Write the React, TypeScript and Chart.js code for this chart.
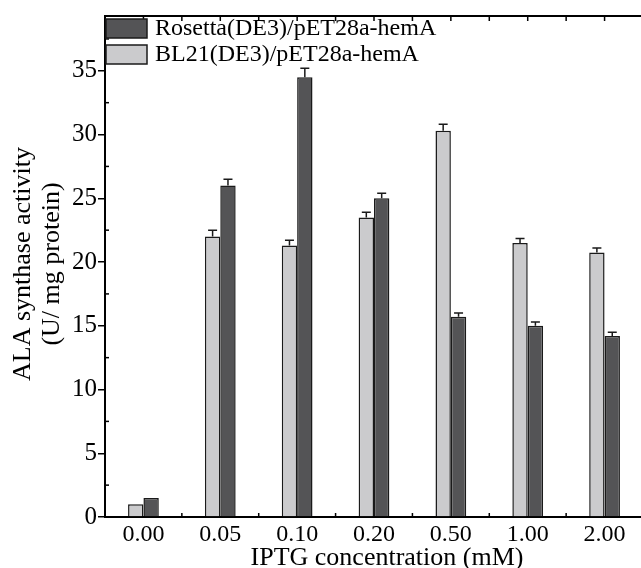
import React, { useEffect, useRef } from "react";
import { Chart, registerables } from "chart.js";

Chart.register(...registerables);

const categories = ["0.00", "0.05", "0.10", "0.20", "0.50", "1.00", "2.00"];
const bl21Values = [1.0, 22.0, 21.3, 23.5, 30.3, 21.5, 20.75];
const bl21Errors = [0, 0.5, 0.4, 0.4, 0.5, 0.35, 0.35];
const rosettaValues = [1.5, 26.0, 34.5, 25.0, 15.7, 15.0, 14.2];
const rosettaErrors = [0, 0.5, 0.7, 0.4, 0.3, 0.3, 0.3];
const yTickValues = [0, 5, 10, 15, 20, 25, 30, 35];
const legendLabels = ["Rosetta(DE3)/pET28a-hemA", "BL21(DE3)/pET28a-hemA"];
const yTitleLines = ["ALA synthase activity", "(U/ mg protein)"];
const xTitle = "IPTG concentration (mM)";

const LIGHT = "#cbcbcd";
const DARK = "#545456";
const EDGE = "#1a1a1a";
const FONT = "'Liberation Serif', 'Times New Roman', serif";

const W = 660;
const H = 568;

const decorPlugin = {
  id: "decor",
  afterDatasetsDraw(chart: any) {
    const ctx = chart.ctx;
    const ya = chart.scales.y;
    const errs = [bl21Errors, rosettaErrors];
    ctx.save();
    ctx.strokeStyle = EDGE;
    ctx.lineWidth = 1.5;
    [0, 1].forEach((di) => {
      const meta = chart.getDatasetMeta(di);
      meta.data.forEach((bar: any, i: number) => {
        const e = errs[di][i];
        if (!e) return;
        const v = chart.data.datasets[di].data[i] as number;
        const yTop = ya.getPixelForValue(v + e);
        const yBase = ya.getPixelForValue(v);
        ctx.beginPath();
        ctx.moveTo(bar.x, yBase);
        ctx.lineTo(bar.x, yTop);
        ctx.moveTo(bar.x - 4.5, yTop);
        ctx.lineTo(bar.x + 4.5, yTop);
        ctx.stroke();
      });
    });
    ctx.restore();
  },
  afterDraw(chart: any) {
    const ctx = chart.ctx;
    const area = chart.chartArea;
    const ya = chart.scales.y;
    const xa = chart.scales.x;
    ctx.save();
    ctx.strokeStyle = "#000";
    ctx.lineWidth = 2;
    ctx.beginPath();
    ctx.moveTo(area.left - 1, area.top);
    ctx.lineTo(area.right, area.top);
    ctx.stroke();
    ctx.lineWidth = 1.5;
    const n = categories.length;
    const step = (area.right - area.left) / n;
    for (let i = 0; i <= n; i++) {
      const xb = area.left + i * step;
      ctx.beginPath();
      ctx.moveTo(xb, area.bottom);
      ctx.lineTo(xb, area.bottom - 4);
      ctx.moveTo(xb, area.top);
      ctx.lineTo(xb, area.top + 5);
      ctx.stroke();
    }
    for (let i = 0; i < n; i++) {
      const xc = xa.getPixelForValue(i);
      ctx.beginPath();
      ctx.moveTo(xc, area.top);
      ctx.lineTo(xc, area.top + 5);
      ctx.stroke();
    }
    for (let v = 2.5; v < ya.max; v += 5) {
      const yy = ya.getPixelForValue(v);
      ctx.beginPath();
      ctx.moveTo(area.left, yy);
      ctx.lineTo(area.left + 4, yy);
      ctx.stroke();
    }
    const colors = [DARK, LIGHT];
    const boxTops = [19, 45];
    ctx.font = `24px ${FONT}`;
    ctx.textBaseline = "middle";
    ctx.textAlign = "left";
    legendLabels.forEach((lab, i) => {
      ctx.fillStyle = colors[i];
      ctx.fillRect(106, boxTops[i], 41, 19);
      ctx.strokeStyle = EDGE;
      ctx.lineWidth = 1.5;
      ctx.strokeRect(106, boxTops[i], 41, 19);
      ctx.fillStyle = "#000";
      ctx.fillText(lab, 155, boxTops[i] + 10);
    });
    ctx.font = `26px ${FONT}`;
    ctx.fillStyle = "#000";
    ctx.textAlign = "center";
    ctx.textBaseline = "middle";
    const cy = 264;
    [23, 52].forEach((x, i) => {
      ctx.save();
      ctx.translate(x, cy);
      ctx.rotate(-Math.PI / 2);
      ctx.fillText(yTitleLines[i], 0, 0);
      ctx.restore();
    });
    ctx.fillText(xTitle, 387, 558);
    ctx.restore();
  },
};

export default function App() {
  const ref = useRef<HTMLCanvasElement | null>(null);
  useEffect(() => {
    if (!ref.current) return;
    const chart = new Chart(ref.current, {
      type: "bar",
      data: {
        labels: categories,
        datasets: [
          {
            label: legendLabels[1],
            data: bl21Values,
            backgroundColor: LIGHT,
            borderColor: EDGE,
            borderWidth: 1.5,
            categoryPercentage: 0.4,
            barPercentage: 1.0,
          },
          {
            label: legendLabels[0],
            data: rosettaValues,
            backgroundColor: DARK,
            borderColor: EDGE,
            borderWidth: 1.5,
            categoryPercentage: 0.4,
            barPercentage: 1.0,
          },
        ],
      },
      options: {
        responsive: false,
        animation: false,
        devicePixelRatio: 1,
        layout: { padding: { top: 14, right: 17, left: 0, bottom: 0 } },
        plugins: {
          legend: { display: false },
          tooltip: { enabled: false },
          title: { display: false },
        },
        scales: {
          x: {
            type: "category",
            offset: true,
            grid: { display: false, offset: true },
            border: { display: true, color: "#000", width: 2 },
            ticks: {
              color: "#000",
              font: { family: FONT, size: 24 },
              padding: -5,
              maxRotation: 0,
              autoSkip: false,
            },
            afterFit(scale: any) {
              scale.height = 51;
            },
          },
          y: {
            min: 0,
            max: 39.3,
            grid: {
              drawOnChartArea: false,
              drawTicks: true,
              tickLength: 7,
              color: "#000",
              lineWidth: 1.5,
            },
            border: { display: true, color: "#000", width: 2 },
            ticks: {
              stepSize: 5,
              color: "#000",
              font: { family: FONT, size: 25 },
              padding: 1,
            },
            afterBuildTicks(scale: any) {
              scale.ticks = yTickValues.map((v) => ({ value: v }));
            },
            afterFit(scale: any) {
              scale.width = 105;
            },
          },
        },
      },
      plugins: [decorPlugin],
    });
    return () => chart.destroy();
  }, []);
  return (
    <div
      style={{
        position: "absolute",
        left: 0,
        top: 0,
        width: 641,
        height: 568,
        overflow: "hidden",
        background: "#fff",
      }}
    >
      <canvas ref={ref} width={W} height={H} style={{ display: "block", width: W, height: H }} />
    </div>
  );
}
